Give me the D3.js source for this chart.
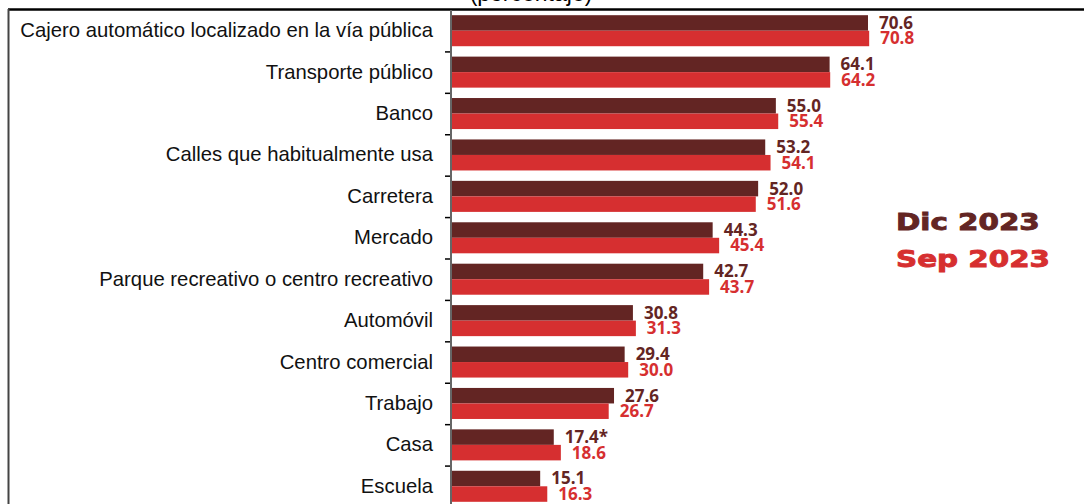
<!DOCTYPE html>
<html>
<head>
<meta charset="utf-8">
<script src="https://cdn.jsdelivr.net/npm/d3@7"></script>
<style>
  body { margin: 0; background: #fff; }
  svg { display: block; }
</style>
</head>
<body>
<div id="chart"></div>
<script>
// lugares donde la población se siente insegura (porcentaje)
const categorias = [
  "Cajero automático localizado en la vía pública",
  "Transporte público",
  "Banco",
  "Calles que habitualmente usa",
  "Carretera",
  "Mercado",
  "Parque recreativo o centro recreativo",
  "Automóvil",
  "Centro comercial",
  "Trabajo",
  "Casa",
  "Escuela"
];
const dic2023 = [70.6, 64.1, 55.0, 53.2, 52.0, 44.3, 42.7, 30.8, 29.4, 27.6, 17.4, 15.1];
const sep2023 = [70.8, 64.2, 55.4, 54.1, 51.6, 45.4, 43.7, 31.3, 30.0, 26.7, 18.6, 16.3];
const notasDic = ["", "", "", "", "", "", "", "", "", "", "*", ""];
const series = ["Dic 2023", "Sep 2023"];
const colores = ["#632523", "#d62f30"];

const width = 1084, height = 504;

const svg = d3.select("#chart")
  .append("svg")
  .attr("width", width)
  .attr("height", height);

// marco
svg.append("line")
  .attr("x1", 8).attr("x2", width)
  .attr("y1", 9.5).attr("y2", 9.5)
  .attr("stroke", "#000").attr("stroke-width", 2.5);
svg.append("line")
  .attr("x1", 8.5).attr("x2", 8.5)
  .attr("y1", 9).attr("y2", height)
  .attr("stroke", "#444").attr("stroke-width", 2);

svg.append("text")
  .attr("x", 531).attr("y", 1)
  .attr("text-anchor", "middle")
  .style("font-family", "Liberation Sans, Arial, sans-serif")
  .style("font-size", "23px")
  .attr("fill", "#000")
  .text("(porcentaje)");

const data = categorias.map((c, i) => ({
  cat: c,
  valores: [
    { serie: series[0], v: dic2023[i], label: d3.format(".1f")(dic2023[i]) + notasDic[i] },
    { serie: series[1], v: sep2023[i], label: d3.format(".1f")(sep2023[i]) }
  ]
}));

// escalas
const y0 = d3.scaleBand()
  .domain(categorias)
  .range([10, 507])
  .padding(0);

const y1 = d3.scaleBand()
  .domain(series)
  .range([0, y0.bandwidth()])
  .paddingInner(0)
  .paddingOuter(0.335);

const x = d3.scaleLinear()
  .domain([0, 70.6])
  .range([451, 868]);

const color = d3.scaleOrdinal().domain(series).range(colores);

// barras
const grupos = svg.append("g")
  .selectAll("g")
  .data(data)
  .join("g")
  .attr("transform", d => "translate(0," + y0(d.cat) + ")");

grupos.selectAll("rect")
  .data(d => d.valores)
  .join("rect")
  .attr("x", x(0))
  .attr("y", d => y1(d.serie))
  .attr("width", d => x(d.v) - x(0))
  .attr("height", y1.bandwidth())
  .attr("fill", d => color(d.serie));

grupos.selectAll("text")
  .data(d => d.valores)
  .join("text")
  .attr("x", d => x(d.v) + 11)
  .attr("y", d => y1(d.serie) + y1.bandwidth() / 2)
  .attr("dy", "0.35em")
  .attr("fill", d => color(d.serie))
  .style("font-family", "Open Sans, Liberation Sans, sans-serif")
  .style("font-weight", "bold")
  .style("font-size", "17px")
  .text(d => d.label);

// eje
const ejeY = svg.append("g")
  .attr("transform", "translate(" + x(0) + ",0)")
  .call(d3.axisLeft(y0).tickSize(0).tickPadding(18));
ejeY.select(".domain").remove();
ejeY.selectAll("text")
  .style("font-family", "Liberation Sans, Arial, sans-serif")
  .style("font-size", "20.3px")
  .attr("fill", "#111");

const limites = d3.scaleLinear().domain([0, categorias.length]).range(y0.range());
const ejeTicks = svg.append("g")
  .attr("transform", "translate(" + x(0) + ",0)")
  .call(d3.axisLeft(limites).tickValues(d3.range(1, categorias.length)).tickFormat("").tickSize(6));
ejeTicks.select(".domain").remove();
ejeTicks.selectAll("line").attr("stroke", "#000").attr("stroke-width", 1.5);

svg.append("line")
  .attr("x1", x(0)).attr("x2", x(0))
  .attr("y1", 10).attr("y2", height)
  .attr("stroke", "#666").attr("stroke-width", 2);

// leyenda
svg.append("g")
  .attr("transform", "translate(896,0) scale(1.26,1)")
  .selectAll("text")
  .data(series)
  .join("text")
  .attr("x", 0)
  .attr("y", (d, i) => 230 + i * 37)
  .attr("fill", d => color(d))
  .attr("stroke", d => color(d))
  .attr("stroke-width", 0.9)
  .style("font-family", "DejaVu Sans, sans-serif")
  .style("font-weight", "bold")
  .style("font-size", "23.3px")
  .text(d => d);
</script>
</body>
</html>
